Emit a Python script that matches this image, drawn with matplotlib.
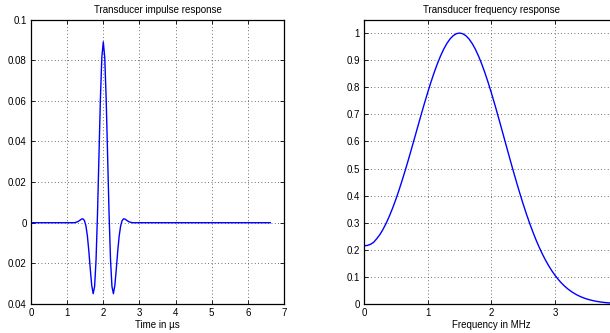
import numpy as np
import matplotlib
matplotlib.use("Agg")
import matplotlib.pyplot as plt

plt.rcParams["font.family"] = ["Liberation Sans", "DejaVu Sans"]
plt.rcParams["font.size"] = 7

# ---------------------------------------------------------------------------
# Data
# ---------------------------------------------------------------------------

# impulse response: flat zero before/after, pulse sampled every 0.04 us around 2 us
pulse_start_us = 1.20
pulse_end_us = 2.80
trace_end_us = 6.62
pulse_half = [  # tau = 0.00 .. 0.80 us from the centre, mirrored
    0.0890, 0.0814, 0.0608, 0.0327, 0.0043, -0.0182, -0.0314, -0.0349,
    -0.0308, -0.0228, -0.0139, -0.0065, -0.0016, 0.0010, 0.0019, 0.0018,
    0.0013, 0.0008, 0.0004, 0.0002, 0.0000,
]

# frequency response, every 0.05 MHz from 0 to 3.95
freq_mhz = [round(0.05 * i, 2) for i in range(80)]
freq_resp = [
    0.2150, 0.2160, 0.2200, 0.2273, 0.2410, 0.2564, 0.2761, 0.2991,
    0.3253, 0.3543, 0.3862, 0.4206, 0.4571, 0.4954, 0.5352, 0.5761,
    0.6176, 0.6594, 0.7009, 0.7415, 0.7807, 0.8182, 0.8533, 0.8856,
    0.9146, 0.9400, 0.9612, 0.9781, 0.9902, 0.9977, 1.0000, 0.9975,
    0.9900, 0.9778, 0.9608, 0.9394, 0.9139, 0.8847, 0.8521, 0.8167,
    0.7788, 0.7390, 0.6977, 0.6554, 0.6126, 0.5698, 0.5273, 0.4856,
    0.4449, 0.4056, 0.3679, 0.3320, 0.2982, 0.2665, 0.2369, 0.2096,
    0.1845, 0.1616, 0.1409, 0.1222, 0.1054, 0.0905, 0.0773, 0.0657,
    0.0556, 0.0468, 0.0392, 0.0326, 0.0271, 0.0223, 0.0183, 0.0150,
    0.0122, 0.0098, 0.0079, 0.0063, 0.0050, 0.0040, 0.0032, 0.0025,
]

imp_yticks = [-0.04, -0.02, 0, 0.02, 0.04, 0.06, 0.08, 0.1]
imp_yticklabels = ["0.04", "0.02", "0", "0.02", "0.04", "0.06", "0.08", "0.1"]
freq_yticks = [0, 0.1, 0.2, 0.3, 0.4, 0.5, 0.6, 0.7, 0.8, 0.9, 1.0]
freq_yticklabels = ["0", "0.1", "0.2", "0.3", "0.4", "0.5", "0.6", "0.7", "0.8", "0.9", "1"]

pulse_vals = pulse_half[:0:-1] + pulse_half
t_us = np.concatenate([[0.0], np.linspace(pulse_start_us, pulse_end_us, len(pulse_vals)), [trace_end_us]])
h = np.concatenate([[0.0], pulse_vals, [0.0]])


def style_axes(ax):
    ax.grid(True, linestyle=(0, (1, 3)), color="#404040", linewidth=0.6)
    ax.tick_params(direction="in", length=3, width=0.6, top=True, right=True, pad=3)
    for sp in ax.spines.values():
        sp.set_linewidth(0.9)
        sp.set_color("black")


fig = plt.figure(figsize=(6.1, 3.33), dpi=100)

ax1 = fig.add_axes([31 / 610, 29 / 333, 253 / 610, 284.5 / 333])
ax1.plot(t_us, h, color="blue", linewidth=1.0)
ax1.set_xlim(0, 7)
ax1.set_ylim(-0.04, 0.1)
ax1.set_xticks(range(8))
ax1.set_yticks(imp_yticks)
ax1.set_yticklabels(imp_yticklabels)
ax1.set_title("Transducer impulse response", fontsize=7, pad=5)
ax1.set_xlabel("Time in \u00b5s", labelpad=1)
style_axes(ax1)

# axes runs past the right edge of the figure (xlim to 4), as in the cropped original
ax2 = fig.add_axes([364 / 610, 29 / 333, 4 * 63.7 / 610, 284.5 / 333])
ax2.plot(freq_mhz, freq_resp, color="blue", linewidth=1.0)
ax2.set_xlim(0, 4)
ax2.set_ylim(0, 1.05)
ax2.set_xticks([0, 1, 2, 3])
ax2.set_yticks(freq_yticks)
ax2.set_yticklabels(freq_yticklabels)
ax2.set_title("Transducer frequency response", fontsize=7, pad=5)
ax2.set_xlabel("Frequency in MHz", labelpad=1)
style_axes(ax2)

fig.savefig("out.png", dpi=100)
